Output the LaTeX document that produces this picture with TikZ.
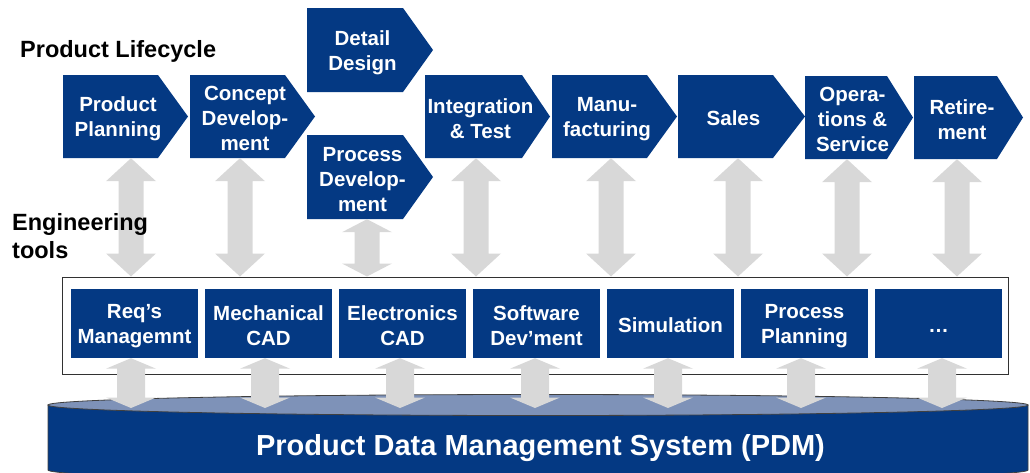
\documentclass[tikz,border=0pt]{standalone}
\usepackage{fontspec}
\setmainfont{Liberation Sans}
\usetikzlibrary{calc}
\definecolor{pdmblue}{RGB}{4,57,131}
\definecolor{pdmlight}{RGB}{126,146,184}
\definecolor{arrowgray}{RGB}{216,216,216}
\definecolor{framegray}{RGB}{50,50,50}
\newcommand{\mystrut}{\rule[-2pt]{0pt}{22pt}}
% name, left, top, bottom, rect right, tip, text
\newcommand{\chev}[7]{%
  \fill[pdmblue] (#2,#3) -- (#5,#3) -- (#6,{(#3+#4)/2}) -- (#5,#4) -- (#2,#4) -- cycle;
  \node[chevtext, minimum height={(#4-#3)*1pt}] (#1) at ({(#2+(#5+#6)/2)/2},{(#3+#4)/2}) {#7};}
% from, to, head length, shaft half width, head half width
\newcommand{\fatarrow}[5]{%
  \fill[arrowgray] let \p1=(#1), \p2=(#2) in
    (\x1,\y1) -- (\x1+#5pt,\y1-#3pt) -- (\x1+#4pt,\y1-#3pt) -- (\x1+#4pt,\y2+#3pt)
    -- (\x1+#5pt,\y2+#3pt) -- (\x1,\y2) -- (\x1-#5pt,\y2+#3pt) -- (\x1-#4pt,\y2+#3pt)
    -- (\x1-#4pt,\y1-#3pt) -- (\x1-#5pt,\y1-#3pt) -- cycle;}
\begin{document}
\begin{tikzpicture}[x=1pt,y=-1pt,
  chevtext/.style={text=white, font=\bfseries\fontsize{20.5}{25}\selectfont, align=center, inner sep=0pt},
  toolbox/.style={fill=pdmblue, text=white, font=\bfseries\fontsize{20.5}{25}\selectfont, align=center, minimum width=127pt, minimum height=69pt, inner sep=0pt},
  sidelabel/.style={font=\bfseries\fontsize{23.5}{28}\selectfont, align=left, inner sep=0pt, anchor=base west}]
\useasboundingbox (0,0) rectangle (1030,472);
\clip (0,0) rectangle (1030,472);

% chevrons
\chev{pp}{63}{75}{158}{158}{188}{\mystrut Product\\Planning\mystrut}
\chev{cd}{190}{75}{158}{285}{315}{\mystrut Concept\\Develop-\\ment\mystrut}
\chev{dd}{307}{8}{92}{403}{433}{\mystrut Detail\\Design\mystrut}
\chev{pd}{307}{135}{219}{403}{433}{\mystrut Process\\Develop-\\ment\mystrut}
\chev{it}{425}{75}{158}{522}{550}{\mystrut Integration\\\& Test\mystrut}
\chev{mf}{552}{75}{158}{647}{677}{\mystrut Manu-\\facturing\mystrut}
\chev{sa}{678}{75}{158}{773}{805}{\mystrut Sales\mystrut}
\chev{op}{805}{76}{159}{887}{913}{\mystrut Opera-\\tions \&\\Service\mystrut}
\chev{rt}{914}{76}{159}{997}{1023}{\mystrut Retire-\\ment\mystrut}

% tool frame and boxes
\node[draw=framegray, line width=1pt, fill=white, minimum width=946pt, minimum height=97pt, inner sep=0pt] (frame) at (535,325.5) {};
\node[toolbox] (t1) at (134.5,323.5) {\mystrut Req’s\\Managemnt\mystrut};
\node[toolbox] (t2) at (268.5,323.5) {\mystrut Mechanical\\CAD\mystrut};
\node[toolbox] (t3) at (402.5,323.5) {\mystrut Electronics\\CAD\mystrut};
\node[toolbox] (t4) at (536.5,323.5) {\mystrut Software\\Dev’ment\mystrut};
\node[toolbox] (t5) at (670.5,323.5) {\mystrut Simulation\mystrut};
\node[toolbox] (t6) at (804.5,323.5) {\mystrut Process\\Planning\mystrut};
\node[toolbox] (t7) at (938.5,323.5) {\mystrut …\mystrut};

% top arrows
\fatarrow{131,0 |- pp.south}{131,0 |- frame.north}{23}{12.5}{25}
\fatarrow{240,0 |- cd.south}{240,0 |- frame.north}{23}{12.5}{25}
\fatarrow{367,0 |- pd.south}{367,0 |- frame.north}{13}{12.5}{25}
\fatarrow{476,0 |- it.south}{476,0 |- frame.north}{23}{12.5}{25}
\fatarrow{611,0 |- mf.south}{611,0 |- frame.north}{23}{12.5}{25}
\fatarrow{738,0 |- sa.south}{738,0 |- frame.north}{23}{12.5}{25}
\fatarrow{847,0 |- op.south}{847,0 |- frame.north}{23}{12.5}{25}
\fatarrow{957,0 |- rt.south}{957,0 |- frame.north}{23}{12.5}{25}

% labels
\node[sidelabel] (lifecycle) at (20,57) {Product Lifecycle};
\node[sidelabel] (engtools) at (12,258) {Engineering\\tools};

% cylinder
\fill[pdmblue, draw=black!75, line width=0.8pt] (48,405) -- (48,470) arc[start angle=180, end angle=0, x radius=490, y radius=11] -- (1028,405) -- cycle;
\filldraw[fill=pdmlight, draw=black!75, line width=0.8pt] (538,405) ellipse [x radius=490, y radius=10.5];
\coordinate (c1) at (131,408);
\coordinate (c2) at (265,408);
\coordinate (c3) at (400,408);
\coordinate (c4) at (535,408);
\coordinate (c5) at (668,408);
\coordinate (c6) at (801,408);
\coordinate (c7) at (942,408);

% bottom arrows
\fatarrow{131,0 |- t1.south}{c1}{10.5}{14}{25}
\fatarrow{265,0 |- t2.south}{c2}{10.5}{14}{25}
\fatarrow{400,0 |- t3.south}{c3}{10.5}{14}{25}
\fatarrow{535,0 |- t4.south}{c4}{10.5}{14}{25}
\fatarrow{668,0 |- t5.south}{c5}{10.5}{14}{25}
\fatarrow{801,0 |- t6.south}{c6}{10.5}{14}{25}
\fatarrow{942,0 |- t7.south}{c7}{10.5}{14}{25}

\node[font=\bfseries\fontsize{29}{34}\selectfont, text=white, anchor=base, inner sep=0pt] (pdm) at (540.5,455) {Product Data Management System (PDM)};
\end{tikzpicture}
\end{document}
